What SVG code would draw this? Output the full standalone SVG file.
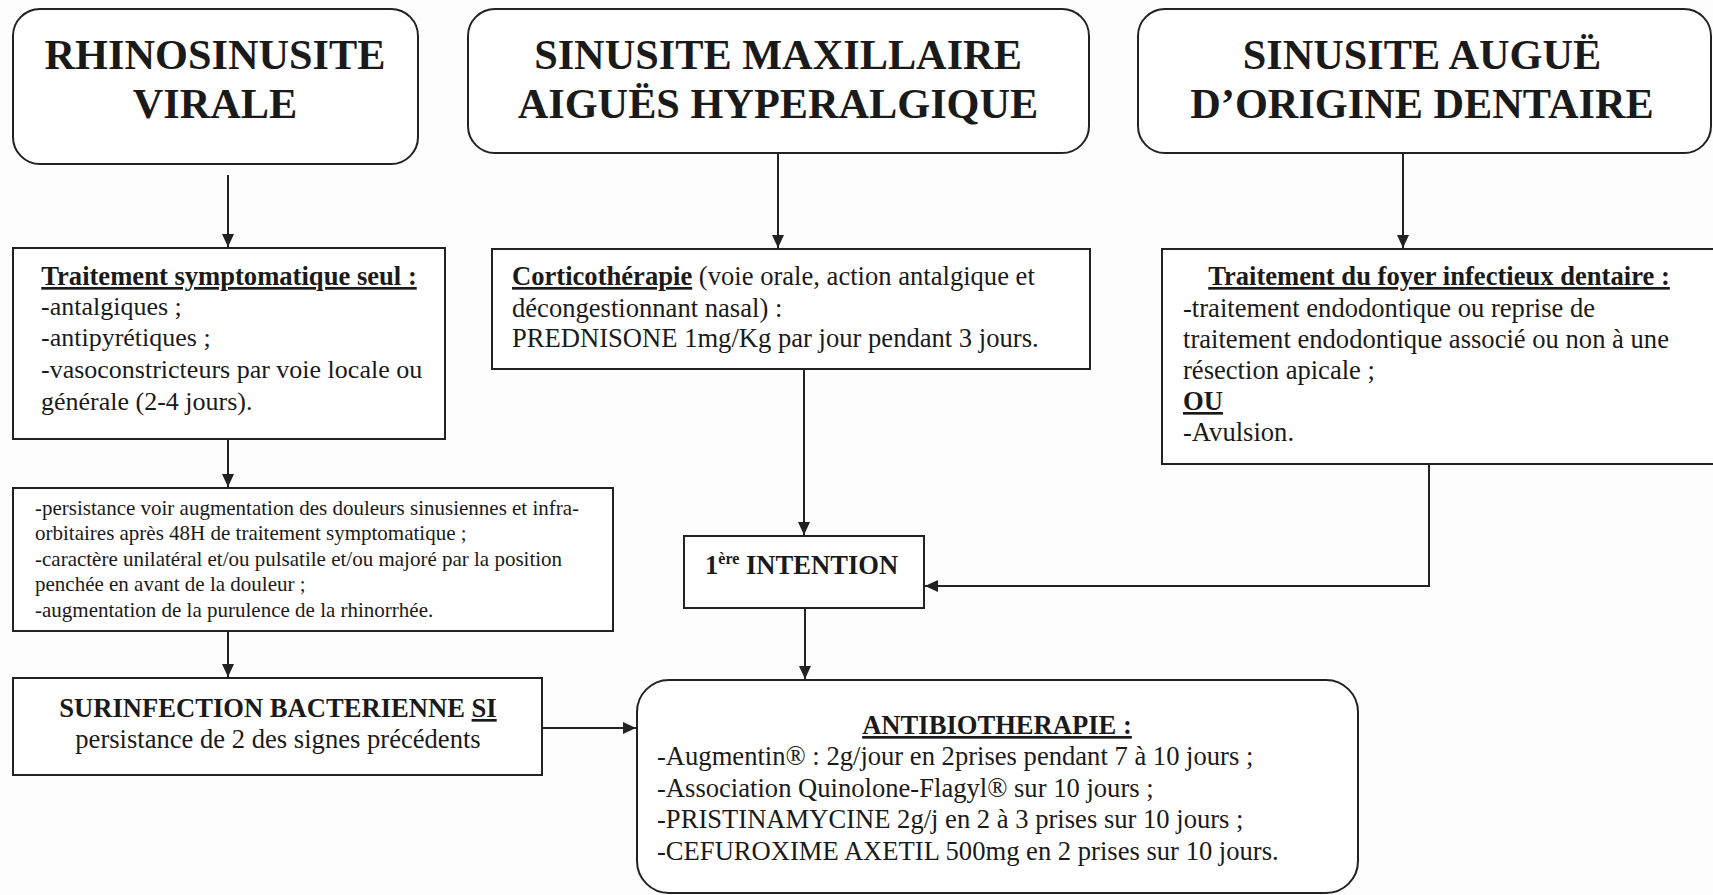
<svg xmlns="http://www.w3.org/2000/svg" width="1713" height="895" viewBox="0 0 1713 895">
<style>
.box{fill:#ffffff;stroke:#222;stroke-width:2}
.t{font-family:"Liberation Serif","Times New Roman",serif;fill:#1a1a1a}
.title{font-size:42.3px;font-weight:bold;text-anchor:middle}
.b{font-weight:bold}
.u{text-decoration:underline}
.m{font-size:26.6px}
.m0{font-size:26px}
.s{font-size:21px}
.c{text-anchor:middle}
.con{fill:none;stroke:#222;stroke-width:2}
</style>
<defs>
<marker id="ah" markerWidth="14" markerHeight="14" refX="13" refY="6" orient="auto" markerUnits="userSpaceOnUse">
<path d="M0,0 L13,6 L0,12 Z" fill="#222"/>
</marker>
</defs>
<rect width="1713" height="895" fill="#fdfdfd"/>
<g id="connectors">
<line class="con" x1="228" y1="175" x2="228" y2="247" marker-end="url(#ah)"/>
<line class="con" x1="778" y1="153" x2="778" y2="248" marker-end="url(#ah)"/>
<line class="con" x1="1403" y1="153" x2="1403" y2="248" marker-end="url(#ah)"/>
<line class="con" x1="228" y1="439" x2="228" y2="487" marker-end="url(#ah)"/>
<line class="con" x1="228" y1="631" x2="228" y2="677" marker-end="url(#ah)"/>
<line class="con" x1="804" y1="369" x2="804" y2="535" marker-end="url(#ah)"/>
<polyline class="con" points="1429,464 1429,586 925,586" marker-end="url(#ah)"/>
<line class="con" x1="542" y1="728" x2="636" y2="728" marker-end="url(#ah)"/>
<line class="con" x1="805" y1="608" x2="805" y2="679" marker-end="url(#ah)"/>
</g>
<g id="n1">
<rect class="box" x="13" y="9" width="405" height="155" rx="27"/>
<text class="t title" x="215" y="69">RHINOSINUSITE</text>
<text class="t title" x="215" y="118">VIRALE</text>
</g>
<g id="n2">
<rect class="box" x="468" y="9" width="621" height="144" rx="27"/>
<text class="t title" x="778" y="69">SINUSITE MAXILLAIRE</text>
<text class="t title" x="778" y="118">AIGUËS HYPERALGIQUE</text>
</g>
<g id="n3">
<rect class="box" x="1138" y="9" width="573" height="144" rx="27"/>
<text class="t title" x="1422" y="69">SINUSITE AUGUË</text>
<text class="t title" x="1422" y="118">D’ORIGINE DENTAIRE</text>
</g>
<g id="n4">
<rect class="box" x="13" y="248" width="432" height="191"/>
<text class="t m b u c" x="229" y="285">Traitement symptomatique seul :</text>
<text class="t m0" x="41" y="315">-antalgiques ;</text>
<text class="t m0" x="41" y="346">-antipyrétiques ;</text>
<text class="t m0" x="41" y="378">-vasoconstricteurs par voie locale ou</text>
<text class="t m0" x="41" y="410">générale (2-4 jours).</text>
</g>
<g id="n5">
<rect class="box" x="492" y="249" width="598" height="120"/>
<text class="t m" x="512" y="285"><tspan class="b u">Corticothérapie</tspan> (voie orale, action antalgique et</text>
<text class="t m" x="512" y="317">décongestionnant nasal) :</text>
<text class="t m" x="512" y="347">PREDNISONE 1mg/Kg par jour pendant 3 jours.</text>
</g>
<g id="n6">
<rect class="box" x="1162" y="249" width="560" height="215"/>
<text class="t m b u c" x="1439" y="285">Traitement du foyer infectieux dentaire :</text>
<text class="t m" x="1183" y="317">-traitement endodontique ou reprise de</text>
<text class="t m" x="1183" y="348">traitement endodontique associé ou non à une</text>
<text class="t m" x="1183" y="379">résection apicale ;</text>
<text class="t m b u" x="1183" y="410">OU</text>
<text class="t m" x="1183" y="441">-Avulsion.</text>
</g>
<g id="n7">
<rect class="box" x="13" y="488" width="600" height="143"/>
<text class="t s" x="35" y="515">-persistance voir augmentation des douleurs sinusiennes et infra-</text>
<text class="t s" x="35" y="540">orbitaires après 48H de traitement symptomatique ;</text>
<text class="t s" x="35" y="566">-caractère unilatéral et/ou pulsatile et/ou majoré par la position</text>
<text class="t s" x="35" y="591">penchée en avant de la douleur ;</text>
<text class="t s" x="35" y="617">-augmentation de la purulence de la rhinorrhée.</text>
</g>
<g id="n8">
<rect class="box" x="13" y="678" width="529" height="97"/>
<text class="t m b c" x="278" y="717">SURINFECTION BACTERIENNE <tspan class="u">SI</tspan></text>
<text class="t m c" x="278" y="748">persistance de 2 des signes précédents</text>
</g>
<g id="n9">
<rect class="box" x="684" y="536" width="240" height="72"/>
<text class="t m b" x="705" y="574">1<tspan font-size="16" dy="-10">ère</tspan><tspan dy="10"> INTENTION</tspan></text>
</g>
<g id="n10">
<rect class="box" x="637" y="680" width="721" height="213" rx="32"/>
<text class="t m b u c" x="997" y="734">ANTIBIOTHERAPIE :</text>
<text class="t m" x="657" y="765">-Augmentin® : 2g/jour en 2prises pendant 7 à 10 jours ;</text>
<text class="t m" x="657" y="797">-Association Quinolone-Flagyl® sur 10 jours ;</text>
<text class="t m" x="657" y="828">-PRISTINAMYCINE 2g/j en 2 à 3 prises sur 10 jours ;</text>
<text class="t m" x="657" y="860">-CEFUROXIME AXETIL 500mg en 2 prises sur 10 jours.</text>
</g>
</svg>
